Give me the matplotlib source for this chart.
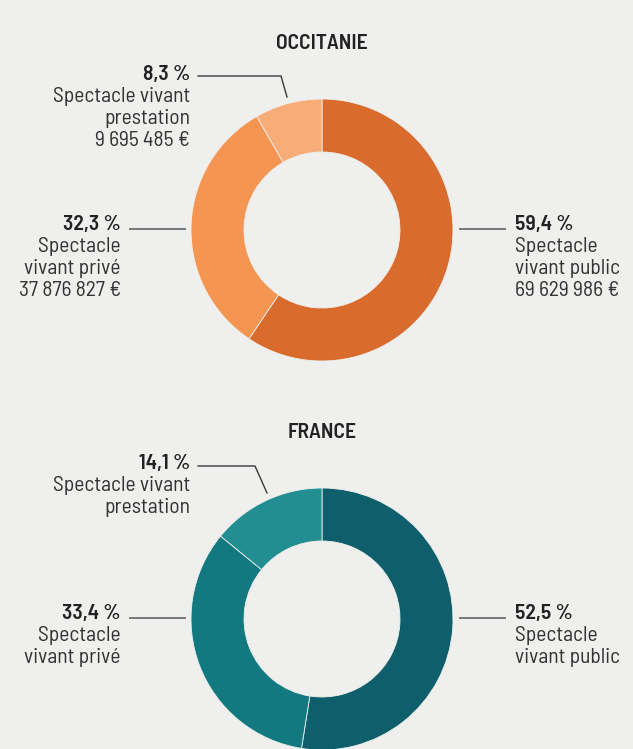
import matplotlib
matplotlib.use("Agg")
import matplotlib.pyplot as plt

W, H = 633, 749
BG = "#efefed"
plt.rcParams['font.family'] = ['Barlow Semi Condensed', 'DejaVu Sans']

regions = ["OCCITANIE", "FRANCE"]
categories = ["Spectacle vivant public", "Spectacle vivant privé", "Spectacle vivant prestation"]
occ_pct = [59.4, 32.3, 8.3]
occ_amounts = ["69 629 986 €", "37 876 827 €", "9 695 485 €"]
fr_pct = [52.5, 33.4, 14.1]
occ_colors = ["#d96b2d", "#f59552", "#f8ad78"]
fr_colors = ["#0e5f6b", "#127980", "#238e92"]

fig = plt.figure(figsize=(W/100, H/100), dpi=100, facecolor=BG)
ax = fig.add_axes([0, 0, 1, 1])
ax.set_facecolor(BG)

def fmt(p):
    return f"{p:.1f}".replace(".", ",") + " %"

def donut(cy, vals, colors):
    # y axis inverted -> counterclock=True draws clockwise on screen; startangle -90 is top
    ax.pie(vals, colors=colors, center=(322, cy), radius=131, startangle=-90,
           counterclock=True, wedgeprops=dict(width=53, linewidth=0.6, edgecolor=BG),
           frame=True)

fs = 15.5
TXT = "#333333"
BOLD = "#222222"
lc = "#3a3a3a"
LS = 22

def block(cy, title, pcts, colors, amounts):
    donut(cy, pcts, colors)
    ax.text(322, cy - 181, title, ha='center', va='baseline', fontsize=15.5, color=BOLD, weight='semibold')
    # prestation (top-left)
    ty = cy - 150
    lines = ["Spectacle vivant", "prestation"] + ([amounts[2]] if amounts else [])
    ax.text(190, ty, fmt(pcts[2]), ha='right', va='baseline', fontsize=fs, weight='semibold', color=BOLD)
    for i, s in enumerate(lines):
        ax.text(190, ty + LS*(i+1), s, ha='right', va='baseline', fontsize=fs, color=TXT, weight='normal')
    # privé (left)
    py = cy
    ax.text(121, py, fmt(pcts[1]), ha='right', va='baseline', fontsize=fs, weight='semibold', color=BOLD)
    lines = ["Spectacle", "vivant privé"] + ([amounts[1]] if amounts else [])
    for i, s in enumerate(lines):
        ax.text(121, py + LS*(i+1), s, ha='right', va='baseline', fontsize=fs, color=TXT, weight='normal')
    ax.plot([130, 185], [cy - 1, cy - 1], color="#777777", lw=1.4)
    # public (right)
    ax.text(515, py, fmt(pcts[0]), ha='left', va='baseline', fontsize=fs, weight='semibold', color=BOLD)
    lines = ["Spectacle", "vivant public"] + ([amounts[0]] if amounts else [])
    for i, s in enumerate(lines):
        ax.text(515, py + LS*(i+1), s, ha='left', va='baseline', fontsize=fs, color=TXT, weight='normal')
    ax.plot([460, 505], [cy - 1, cy - 1], color="#777777", lw=1.4)

block(230, regions[0], occ_pct, occ_colors, occ_amounts)
ax.plot([198, 281, 287], [76, 76, 97], color=lc, lw=1.0)
block(619, regions[1], fr_pct, fr_colors, None)
ax.plot([198, 255, 267], [466, 466, 493], color=lc, lw=1.0)

ax.set_xlim(0, W)
ax.set_ylim(H, 0)
ax.set_aspect('equal')
ax.axis('off')
fig.savefig("out.png", dpi=100, facecolor=BG)
